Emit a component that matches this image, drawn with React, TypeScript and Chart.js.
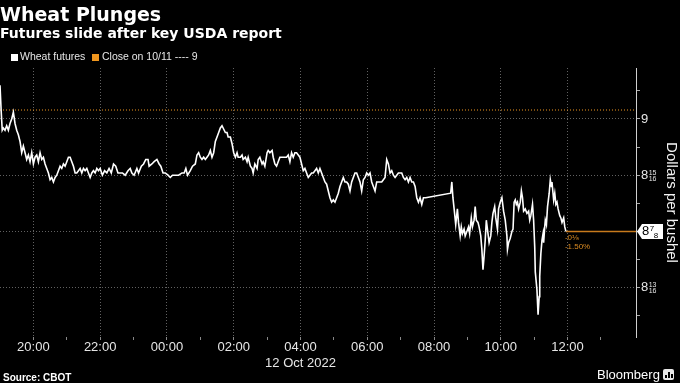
import React, { useEffect, useRef } from 'react';
import { Chart, registerables } from 'chart.js';

Chart.register(...registerables);

// Minutes after 19:00 (Oct 11, Chicago time)
const timesMin = [
  0, 2, 4, 6, 9, 12, 15, 18, 21, 24,
  27, 30, 33, 36, 39, 42, 45, 48, 51, 54,
  57, 60, 63, 66, 69, 72, 75, 78, 81, 84,
  87, 90, 93, 96, 99, 102, 105, 108, 111, 114,
  117, 120, 123, 126, 129, 132, 135, 138, 141, 144,
  147, 150, 153, 156, 159, 162, 165, 168, 171, 174,
  177, 180, 184, 188, 192, 196, 200, 204, 208, 212,
  216, 220, 225, 230, 234, 237, 241, 246, 249, 254,
  258, 262, 266, 268, 273, 277, 282, 286, 289, 293,
  297, 302, 306, 310, 315, 321, 327, 331, 334, 337,
  342, 346, 351, 354, 357, 360, 363, 366, 369, 372,
  375, 378, 381, 384, 387, 390, 393, 396, 399, 401,
  405, 408, 410, 414, 417, 420, 423, 426, 428, 432,
  435, 437, 441, 444, 446, 450, 453, 455, 458, 462,
  464, 467, 471, 473, 476, 480, 482, 485, 489, 491,
  494, 497, 500, 503, 506, 509, 512, 515, 518, 521,
  524, 527, 530, 533, 536, 539, 542, 545, 548, 551,
  554, 557, 560, 563, 566, 569, 572, 575, 578, 581,
  584, 587, 590, 593, 596, 599, 602, 605, 608, 611,
  614, 617, 620, 623, 626, 629, 632, 635, 638, 641,
  644, 647, 650, 653, 656, 659, 662, 665, 668, 671,
  674, 677, 680, 683, 686, 689, 692, 695, 698, 701,
  704, 707, 710, 713, 716, 719, 722, 725, 728, 731,
  734, 737, 740, 743, 746, 749, 752, 755, 758, 761,
  765, 810, 812, 814, 817, 819, 822, 824, 827, 829,
  831, 834, 836, 839, 842, 844, 847, 849, 852, 854,
  856, 859, 861, 864, 866, 868, 870, 872, 874, 877,
  879, 882, 884, 886, 889, 891, 894, 896, 899, 902,
  905, 908, 911, 912, 914, 917, 920, 922, 924, 926,
  928, 930, 932, 935, 937, 939, 941, 944, 947, 950,
  952, 954, 957, 959, 961, 962, 965, 967, 969, 970,
  972, 974, 976, 977, 979, 980, 982, 984, 987, 989,
  991, 992, 995, 997, 999, 1001, 1003, 1006, 1008, 1010,
  1013, 1015, 1017,
];

// Wheat futures price, cents per bushel
const priceCents = [
  903.75, 901, 898.75, 899, 898.75, 899.25, 898.75, 899.5, 900, 900.75,
  899.5, 898.75, 898.25, 897.5, 896.25, 897, 896.25, 895.5, 896, 895.25,
  896.25, 895, 895.75, 896, 895.25, 896.25, 895.5, 895.75, 895, 894.5,
  894, 893.25, 893.5, 893, 893.5, 893.75, 894.25, 894.75, 894.5, 895,
  894.75, 895.25, 895.75, 895.75, 895.25, 894.75, 894, 894, 894.25, 894.5,
  894, 894.5, 894.25, 894.5, 894, 893.5, 894, 894.25, 894, 894.5,
  894.25, 894.5, 893.75, 894.25, 894, 894.5, 894, 895, 894.75, 894,
  894, 894, 893.75, 894.25, 894.5, 894, 893.75, 894.5, 894, 894.75,
  895, 895.5, 895.5, 894.75, 895, 895.25, 895.5, 895, 894.75, 894,
  894, 893.75, 893.5, 893.75, 893.75, 893.75, 894, 894, 894.5, 893.75,
  894.25, 894.75, 895, 896, 896.25, 895.75, 895.5, 895.75, 895.5, 895.75,
  896, 896.5, 895.75, 896.25, 897.5, 898, 898.5, 899, 899.25, 899,
  898.5, 898.5, 898, 898, 897.25, 896.25, 895.75, 896.25, 895.75, 895.75,
  896, 895.5, 895.75, 895.25, 895.75, 894.75, 894.5, 894, 895, 894.5,
  895.5, 895.75, 895, 895.25, 894.75, 896.25, 896.5, 896.25, 896.5, 895.75,
  895, 894.75, 895.25, 895.75, 895.75, 895.75, 895.75, 895.75, 896, 895.25,
  896.25, 895.75, 896.25, 896.25, 896, 895.75, 895, 894.25, 894.5, 894,
  893.5, 893.75, 894, 894, 894.25, 894.5, 894, 894.5, 894, 893.5,
  893, 892.75, 892, 891.25, 890.75, 891, 890.75, 891.25, 891.75, 892.5,
  893, 893.5, 893, 893, 892.75, 892, 893, 893.5, 894, 894,
  893.5, 893, 892, 893.25, 893.5, 894, 893.75, 894, 893, 892.5,
  892, 893, 893, 893, 893, 893.25, 893.5, 895.5, 895, 894,
  894.25, 893.75, 893.5, 893.75, 894, 894, 894, 893.5, 893.25, 893.5,
  893, 893.5, 893, 893, 892.5, 891.25, 890.75, 891.25, 890.5, 891.25,
  891.25, 891.75, 893, 891.25, 889.5, 888.25, 890, 888.5, 887, 888,
  887.25, 887.75, 887, 887.5, 888, 887.25, 889, 888, 888.75, 890.25,
  888.75, 888.5, 888, 887, 885.5, 883.25, 884.75, 886.5, 888.75, 887.25,
  886.25, 887, 888.5, 889.5, 890.25, 889, 887.75, 890, 890.75, 891.25,
  889.75, 888.75, 887, 885.5, 886.25, 886.75, 887.5, 887.75, 890.75, 891,
  890.5, 890.75, 890, 890.75, 892, 891.25, 889.75, 890, 889.5, 889.75,
  888.75, 889.25, 890.5, 888.75, 885.75, 883, 881, 878.25, 880.25, 882.5,
  885, 886.5, 887.25, 886.25, 888, 888.75, 888.25, 890.25, 891.75, 893.25,
  892.5, 893, 891, 891.75, 890.5, 890.75, 890, 889.25, 889, 888.5,
  889, 888, 887.5,
];

const previousClose = 9.01;
const lastPrice = 8.875;
const lastPriceWhole = '8';
const lastPriceNum = '7';
const lastPriceDen = '8';
const netChangeLabel = '-0⅛';
const pctChangeLabel = '-1.50%';

const xTickMinutes = [60, 120, 180, 240, 300, 360, 420, 480, 540, 600, 660, 720, 780, 840, 900, 960, 1020, 1080];
const xTickLabels: (string | string[])[] = [
  '20:00', '', '22:00', '', '00:00', '', '02:00', '', ['04:00', '12 Oct 2022'], '',
  '06:00', '', '08:00', '', '10:00', '', '12:00', '',
];

const yTickValues = [8.78125, 8.8125, 8.84375, 8.875, 8.90625, 8.9375, 8.96875, 9, 9.03125];
const yTickWhole = ['', '8', '', '', '', '8', '', '9', ''];
const yTickNum = ['', '13', '', '', '', '15', '', '', ''];
const yTickDen = ['', '16', '', '', '', '16', '', '', ''];
const yMajor = [false, true, false, true, false, true, false, true, false];

const X_MIN = 0;
const X_MAX = 1143;
const Y_MIN = 8.7576;
const Y_MAX = 9.0567;

const ORANGE = '#f0961e';
const GRID = 'rgba(255,255,255,0.38)';
const SANS = '"Liberation Sans", Arial, sans-serif';

function drawFraction(ctx: CanvasRenderingContext2D, x: number, y: number, num: string, den: string, color: string, size: number, dx: number) {
  ctx.save();
  ctx.fillStyle = color;
  ctx.font = `${size}px ${SANS}`;
  ctx.textAlign = 'left';
  ctx.textBaseline = 'alphabetic';
  ctx.fillText(num, x, y - 0.5);
  ctx.fillText(den, x + dx, y + size * 0.72 + 0.5);
  ctx.restore();
}

export default function App() {
  const ref = useRef<HTMLCanvasElement>(null);

  useEffect(() => {
    const canvas = ref.current;
    if (!canvas) return;
    const lastIdx = timesMin.length - 1;

    const fractionPlugin = {
      id: 'fractions',
      afterDraw(chart: any) {
        const { ctx, scales } = chart;
        const ys = scales.y;
        ctx.save();
        ctx.font = `13px ${SANS}`;
        yTickValues.forEach((v, i) => {
          if (!yTickNum[i]) return;
          const py = ys.getPixelForValue(v);
          const wx = ys.left + 4 + 1 + ctx.measureText(yTickWhole[i]).width + 0.5;
          drawFraction(ctx, wx, py, yTickNum[i], yTickDen[i], '#e6e6e6', 7, 0);
        });
        ctx.restore();
      },
    };

    const endLabelPlugin = {
      id: 'endLabel',
      afterDatasetsDraw(chart: any) {
        const { ctx, chartArea, scales } = chart;
        const py = scales.y.getPixelForValue(lastPrice);
        const px = scales.x.getPixelForValue(timesMin[lastIdx]);
        ctx.save();
        ctx.fillStyle = '#d98a22';
        ctx.font = `8px ${SANS}`;
        ctx.textAlign = 'left';
        ctx.textBaseline = 'middle';
        ctx.fillText(netChangeLabel, px - 1, py + 6.5);
        ctx.fillText(pctChangeLabel, px - 1, py + 15);
        const x0 = chartArea.right;
        ctx.fillStyle = '#ffffff';
        ctx.beginPath();
        ctx.moveTo(x0 + 1, py);
        ctx.lineTo(x0 + 6, py - 7.5);
        ctx.lineTo(x0 + 27, py - 7.5);
        ctx.lineTo(x0 + 27, py + 7.5);
        ctx.lineTo(x0 + 6, py + 7.5);
        ctx.closePath();
        ctx.fill();
        ctx.fillStyle = '#000';
        ctx.font = `13px ${SANS}`;
        ctx.textBaseline = 'middle';
        ctx.fillText(lastPriceWhole, x0 + 6, py + 0.5);
        const w = ctx.measureText(lastPriceWhole).width;
        drawFraction(ctx, x0 + 6 + w + 0.5, py, lastPriceNum, lastPriceDen, '#000', 8, 4);
        ctx.restore();
      },
    };

    const chart = new Chart(canvas, {
      type: 'line',
      data: {
        datasets: [
          {
            label: 'Wheat futures',
            data: timesMin.map((t, i) => ({ x: t, y: priceCents[i] / 100 })),
            borderColor: '#ffffff',
            borderWidth: 1.6,
            pointRadius: 0,
            tension: 0,
          },
          {
            label: 'Close on 10/11',
            data: [
              { x: X_MIN, y: previousClose },
              { x: X_MAX, y: previousClose },
            ],
            borderColor: ORANGE,
            borderWidth: 1,
            borderDash: [1, 2],
            pointRadius: 0,
          },
          {
            label: 'Last',
            data: [
              { x: timesMin[lastIdx], y: lastPrice },
              { x: X_MAX, y: lastPrice },
            ],
            borderColor: '#c77a1c',
            borderWidth: 1.5,
            pointRadius: 0,
          },
        ],
      },
      options: {
        responsive: false,
        animation: false,
        layout: { padding: { top: 68, left: 0, right: 0, bottom: 0 }, autoPadding: false },
        plugins: {
          legend: { display: false },
          tooltip: { enabled: false },
          title: { display: false },
        },
        scales: {
          x: {
            type: 'linear',
            min: X_MIN,
            max: X_MAX,
            afterBuildTicks: (s: any) => {
              s.ticks = xTickMinutes.map((v) => ({ value: v }));
            },
            afterFit: (s: any) => {
              s.height = 46;
            },
            ticks: {
              autoSkip: false,
              maxRotation: 0,
              color: '#e6e6e6',
              padding: 0,
              font: { size: 13, family: SANS },
              callback: (_v: any, i: number) => xTickLabels[i],
            },
            grid: {
              color: (c: any) => (c.index % 2 === 0 ? GRID : 'rgba(0,0,0,0)'),
              tickColor: '#888',
              tickLength: 3,
              lineWidth: 1,
            },
            border: { display: false, dash: [1, 2] },
          },
          y: {
            position: 'right',
            min: Y_MIN,
            max: Y_MAX,
            afterBuildTicks: (s: any) => {
              s.ticks = yTickValues.map((v) => ({ value: v }));
            },
            afterFit: (s: any) => {
              s.width = 44;
            },
            ticks: {
              autoSkip: false,
              color: '#e6e6e6',
              padding: 1,
              font: { size: 13, family: SANS },
              callback: (_v: any, i: number) => yTickWhole[i],
            },
            grid: {
              color: (c: any) => (yMajor[c.index] ? GRID : 'rgba(0,0,0,0)'),
              tickColor: '#aaa',
              tickLength: 4,
            },
            border: { display: true, color: '#cfcfcf', width: 1, dash: [1, 2] },
            title: {
              display: true,
              text: 'Dollars per bushel',
              color: '#f2f2f2',
              font: { size: 15, family: SANS },
              padding: 0,
            },
          },
        },
      },
      plugins: [endLabelPlugin, fractionPlugin],
    } as any);

    return () => chart.destroy();
  }, []);

  const bold = '"DejaVu Sans", sans-serif';
  return (
    <div style={{ position: 'fixed', left: 0, top: 0, width: 680, height: 383, background: '#000', overflow: 'hidden' }}>
      <canvas ref={ref} width={680} height={383} style={{ position: 'absolute', left: 0, top: 0, width: 680, height: 383 }} />
      <div style={{ position: 'absolute', left: 0, top: 3, font: `bold 19px/22px ${bold}`, color: '#fff', whiteSpace: 'nowrap' }}>
        Wheat Plunges
      </div>
      <div style={{ position: 'absolute', left: 0, top: 25, font: `bold 14px/17px ${bold}`, color: '#fff', whiteSpace: 'nowrap' }}>
        Futures slide after key USDA report
      </div>
      <div style={{ position: 'absolute', left: 11, top: 54, width: 7, height: 7, background: '#fff' }} />
      <div style={{ position: 'absolute', left: 20, top: 50, font: `10.5px/13px ${SANS}`, color: '#e6e6e6', whiteSpace: 'nowrap' }}>
        Wheat futures
      </div>
      <div style={{ position: 'absolute', left: 92, top: 54, width: 7, height: 7, background: ORANGE }} />
      <div style={{ position: 'absolute', left: 102, top: 50, font: `10.5px/13px ${SANS}`, color: '#e6e6e6', whiteSpace: 'nowrap' }}>
        Close on 10/11 ---- 9
      </div>
      <div style={{ position: 'absolute', left: 3, top: 372, font: `bold 10px/12px ${SANS}`, color: '#fff', whiteSpace: 'nowrap' }}>
        Source: CBOT
      </div>
      <div style={{ position: 'absolute', left: 597, top: 367, font: `13px/15px ${SANS}`, color: '#fff', whiteSpace: 'nowrap' }}>
        Bloomberg
      </div>
      <div style={{ position: 'absolute', left: 663, top: 369, width: 11, height: 11, background: '#e8e8e8', borderRadius: 2, display: 'flex', alignItems: 'flex-end', justifyContent: 'center', gap: 1, paddingBottom: 2, boxSizing: 'border-box' }}>
        <div style={{ width: 2, height: 3, background: '#000' }} />
        <div style={{ width: 2, height: 6, background: '#000' }} />
        <div style={{ width: 2, height: 4, background: '#000' }} />
      </div>
    </div>
  );
}
